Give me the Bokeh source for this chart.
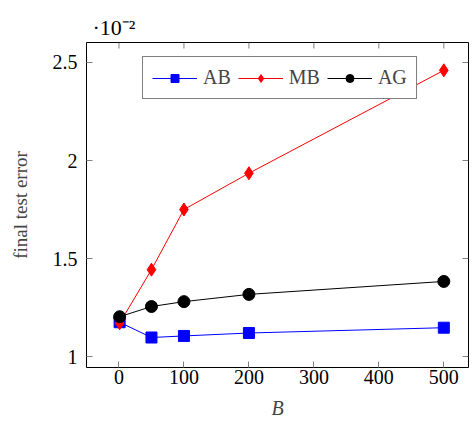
import math
from bokeh.plotting import figure
from bokeh.models import Legend, LegendItem, FixedTicker, Range1d
from bokeh.embed import file_html
from bokeh.resources import INLINE

B = [1, 50, 100, 200, 500]
ab = [1.175, 1.097, 1.105, 1.12, 1.147]
mb = [1.17, 1.443, 1.75, 1.935, 2.46]
ag = [1.203, 1.255, 1.28, 1.317, 1.383]
x_ticks = [0, 100, 200, 300, 400, 500]
y_ticks = [1, 1.5, 2, 2.5]
y_tick_labels = {1: "1", 1.5: "1.5", 2: "2", 2.5: "2.5"}
multiplier = "·10⁻²"

FONT = "Liberation Serif"
X0, X1 = -50, 538
Y0, Y1 = 0.944, 2.602

p = figure(width=470, height=423, output_backend="svg", toolbar_location=None,
           x_range=Range1d(X0, X1), y_range=Range1d(Y0, Y1),
           min_border_left=86, min_border_right=2, min_border_top=42, min_border_bottom=56)
p.grid.visible = False
p.outline_line_color = "black"
p.outline_line_width = 1
p.background_fill_color = "white"
p.border_fill_color = "white"

p.title.text = multiplier
p.title.align = "left"
p.title.offset = 6
p.title.standoff = 6
p.title.text_font = FONT
p.title.text_font_style = "normal"
p.title.text_font_size = "22px"
p.title.text_color = "black"

for ax in (p.xaxis[0], p.yaxis[0]):
    ax.axis_line_color = None
    ax.major_tick_in = 6
    ax.major_tick_out = 0
    ax.minor_tick_line_color = None
    ax.major_tick_line_color = "#808080"
    ax.major_label_text_font = FONT
    ax.major_label_text_font_size = "20px"
    ax.major_label_text_color = "black"

p.xaxis.ticker = FixedTicker(ticks=x_ticks)
p.yaxis.ticker = FixedTicker(ticks=y_ticks)
p.yaxis.major_label_overrides = {k: v for k, v in y_tick_labels.items()}
p.xaxis.major_label_standoff = 2
p.yaxis.major_label_standoff = 9
p.xaxis.axis_label = "B"
p.xaxis.axis_label_text_font = FONT
p.xaxis.axis_label_text_font_style = "italic"
p.xaxis.axis_label_text_font_size = "20px"
p.xaxis.axis_label_standoff = 10
p.yaxis.axis_label = "final test error"
p.yaxis.axis_label_text_font = FONT
p.yaxis.axis_label_text_font_style = "normal"
p.yaxis.axis_label_text_font_size = "19px"
p.yaxis.axis_label_standoff = 19

# mirrored ticks on top and right edges
p.ray(x=x_ticks, y=[Y1] * len(x_ticks), length=6, length_units="screen",
      angle=-math.pi / 2, line_color="#808080", line_width=1)
p.ray(x=[X1] * len(y_ticks), y=y_ticks, length=6, length_units="screen",
      angle=math.pi, line_color="#808080", line_width=1)

r_ab_l = p.line(B, ab, line_color="blue", line_width=1)
r_ab_m = p.scatter(B, ab, marker="square", size=11, fill_color="blue", line_color="blue")
r_mb_l = p.line(B, mb, line_color="red", line_width=1)
r_mb_m = p.scatter(B, mb, marker="diamond", size=13, fill_color="red", line_color="red")
r_ag_l = p.line(B, ag, line_color="black", line_width=1)
r_ag_m = p.scatter(B, ag, marker="circle", size=12, fill_color="black", line_color="black")

legend = Legend(items=[
    LegendItem(label="AB", renderers=[r_ab_l, r_ab_m]),
    LegendItem(label="MB", renderers=[r_mb_l, r_mb_m]),
    LegendItem(label="AG", renderers=[r_ag_l, r_ag_m]),
], orientation="horizontal", location=(56, 268))
legend.label_text_font = FONT
legend.label_text_font_size = "20px"
legend.glyph_width = 45
legend.glyph_height = 20
legend.border_line_color = "black"
legend.border_line_width = 1
legend.padding = 9
legend.spacing = 7
legend.label_standoff = 6
legend.margin = 0
legend.background_fill_alpha = 1
p.add_layout(legend, "center")

open("out.html", "w").write(file_html(p, INLINE))
